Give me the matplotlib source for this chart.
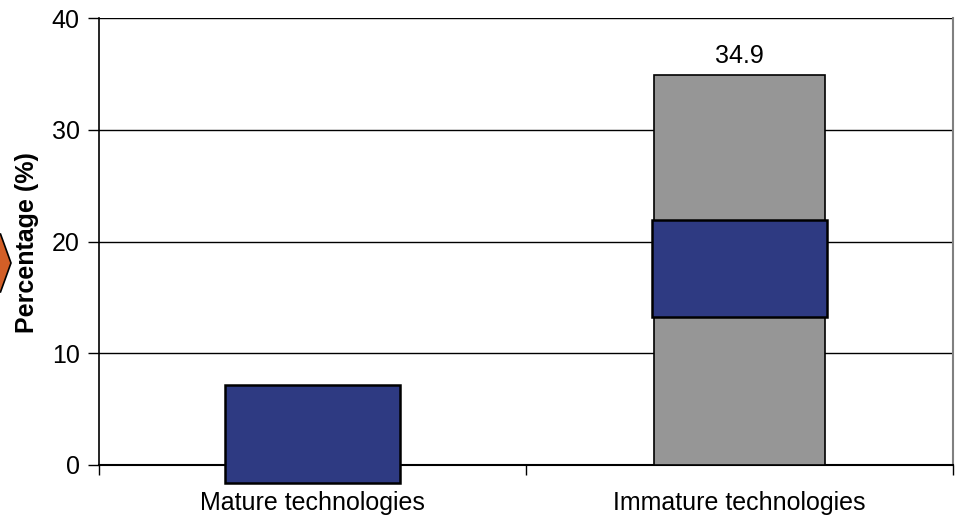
import matplotlib.pyplot as plt
from matplotlib.patches import Polygon

plt.rcParams['font.family'] = ['Liberation Sans', 'DejaVu Sans']

# categories and bar ranges (percent)
categories = ['Mature technologies', 'Immature technologies']
grey_low = [None, 0.0]
grey_high = [None, 34.9]
blue_low = [-1.6, 13.2]
blue_high = [7.2, 21.9]
yticks = [0, 10, 20, 30, 40]

blue = '#2E3A82'
grey = '#969696'

fig = plt.figure(figsize=(9.57, 5.17), dpi=100)
ax = fig.add_axes([99 / 957, 1 - 465 / 517, 854 / 957, 447 / 517])

x = list(range(len(categories)))

# grey full-range bar
for i in x:
    if grey_high[i] is not None:
        ax.bar(i, grey_high[i] - grey_low[i], bottom=grey_low[i], width=0.40,
               color=grey, edgecolor='black', linewidth=1.2, zorder=3)
        ax.text(i, grey_high[i] + 0.6, f'{grey_high[i]:.1f}', ha='center',
                va='bottom', fontsize=18)

# blue box on top
for i in x:
    ax.bar(i, blue_high[i] - blue_low[i], bottom=blue_low[i], width=0.41,
           color=blue, edgecolor='black', linewidth=1.8, zorder=4, clip_on=False)

ax.set_xlim(-0.5, 1.5)
ax.set_ylim(0, 40)
ax.set_yticks(yticks)
ax.tick_params(axis='y', labelsize=18, length=8, width=1, pad=6)
ax.yaxis.grid(True, color='black', linewidth=1)
ax.set_axisbelow(True)

ax.set_xticks(x)
ax.set_xticklabels(categories)
ax.tick_params(axis='x', which='major', length=0, labelsize=18, pad=19)
ax.set_xticks([-0.5, 0.5, 1.5], minor=True)
ax.tick_params(axis='x', which='minor', length=7, width=1)

ax.spines['top'].set_visible(False)
ax.spines['right'].set_color('#808080')
ax.spines['right'].set_linewidth(1.5)
ax.spines['left'].set_linewidth(1.2)
ax.spines['bottom'].set_linewidth(1.5)

fig.text(27 / 957, 1 - 243 / 517, 'Percentage (%)', rotation=90,
         ha='center', va='center', fontsize=18, fontweight='bold')

# orange pointer at the left edge
pts = [(11, 263), (0.5, 234), (-40, 234), (-40, 292), (0.5, 292)]
arrow = Polygon([(px / 957, 1 - py / 517) for px, py in pts], closed=True,
                transform=fig.transFigure, facecolor='#D35F27',
                edgecolor='black', linewidth=1.2)
fig.patches.append(arrow)

fig.savefig('out.png', dpi=100)
